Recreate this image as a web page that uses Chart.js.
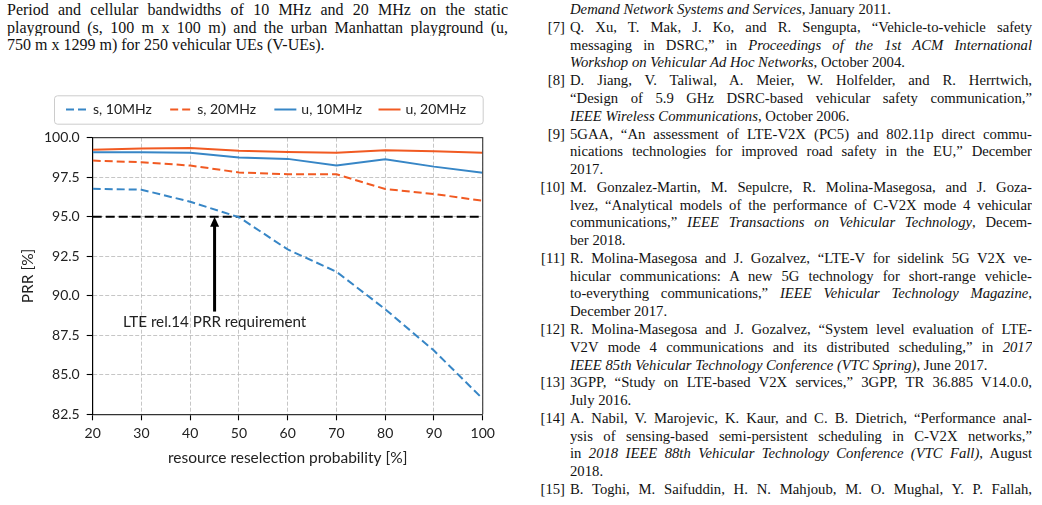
<!DOCTYPE html>
<html><head><meta charset="utf-8">
<script src="https://cdn.jsdelivr.net/npm/chart.js@4.4.0/dist/chart.umd.min.js"></script>
<style>
html,body{margin:0;padding:0;background:#fff;width:1042px;height:505px;overflow:hidden;position:relative}
.t{position:absolute;font-family:"Liberation Serif","Times New Roman",serif;font-size:14.7px;line-height:17.78px;color:#111}
.l{position:relative;height:17.78px;overflow:hidden;text-align:justify;text-align-last:justify}
.e{text-align:left;text-align-last:left;white-space:nowrap}
.v{overflow:visible}
.n{position:absolute;right:100%;top:0;padding-right:5px;white-space:nowrap}
#wrap{position:absolute;left:0;top:88px;width:520px;height:400px}
</style></head>
<body>
<div class="t" style="left:7px;top:0.8px;width:501px;font-size:16px">
<div class="l">Period and cellular bandwidths of 10 MHz and 20 MHz on the static</div>
<div class="l">playground (s, 100 m x 100 m) and the urban Manhattan playground (u,</div>
<div class="l e">750 m x 1299 m) for 250 vehicular UEs (V-UEs).</div>
</div>
<div class="t" style="left:570px;top:1.2px;width:462px">
<div class="l e"><i>Demand Network Systems and Services</i>, January 2011.</div>
<div class="l v"><span class="n">[7]</span>Q. Xu, T. Mak, J. Ko, and R. Sengupta, “Vehicle-to-vehicle safety</div>
<div class="l">messaging in DSRC,” in <i>Proceedings of the 1st ACM International</i></div>
<div class="l e"><i>Workshop on Vehicular Ad Hoc Networks</i>, October 2004.</div>
<div class="l v"><span class="n">[8]</span>D. Jiang, V. Taliwal, A. Meier, W. Holfelder, and R. Herrtwich,</div>
<div class="l">“Design of 5.9 GHz DSRC-based vehicular safety communication,”</div>
<div class="l e"><i>IEEE Wireless Communications</i>, October 2006.</div>
<div class="l v"><span class="n">[9]</span>5GAA, “An assessment of LTE-V2X (PC5) and 802.11p direct commu-</div>
<div class="l">nications technologies for improved road safety in the EU,” December</div>
<div class="l e">2017.</div>
<div class="l v"><span class="n">[10]</span>M. Gonzalez-Martin, M. Sepulcre, R. Molina-Masegosa, and J. Goza-</div>
<div class="l">lvez, “Analytical models of the performance of C-V2X mode 4 vehicular</div>
<div class="l">communications,” <i>IEEE Transactions on Vehicular Technology</i>, Decem-</div>
<div class="l e">ber 2018.</div>
<div class="l v"><span class="n">[11]</span>R. Molina-Masegosa and J. Gozalvez, “LTE-V for sidelink 5G V2X ve-</div>
<div class="l">hicular communications: A new 5G technology for short-range vehicle-</div>
<div class="l">to-everything communications,” <i>IEEE Vehicular Technology Magazine</i>,</div>
<div class="l e">December 2017.</div>
<div class="l v"><span class="n">[12]</span>R. Molina-Masegosa and J. Gozalvez, “System level evaluation of LTE-</div>
<div class="l">V2V mode 4 communications and its distributed scheduling,” in <i>2017</i></div>
<div class="l e"><i>IEEE 85th Vehicular Technology Conference (VTC Spring)</i>, June 2017.</div>
<div class="l v"><span class="n">[13]</span>3GPP, “Study on LTE-based V2X services,” 3GPP, TR 36.885 V14.0.0,</div>
<div class="l e">July 2016.</div>
<div class="l v"><span class="n">[14]</span>A. Nabil, V. Marojevic, K. Kaur, and C. B. Dietrich, “Performance anal-</div>
<div class="l">ysis of sensing-based semi-persistent scheduling in C-V2X networks,”</div>
<div class="l">in <i>2018 IEEE 88th Vehicular Technology Conference (VTC Fall)</i>, August</div>
<div class="l e">2018.</div>
<div class="l v"><span class="n">[15]</span>B. Toghi, M. Saifuddin, H. N. Mahjoub, M. O. Mughal, Y. P. Fallah,</div>
</div>
<div id="wrap"><canvas id="c" width="520" height="400" style="width:520px;height:400px"></canvas></div>
<script>
// ---- data ----
const xValues = [20, 30, 40, 50, 60, 70, 80, 90, 100];
const s10MHz = [96.77, 96.71, 95.95, 94.97, 92.93, 91.52, 89.15, 86.53, 83.48];
const s20MHz = [98.55, 98.45, 98.24, 97.80, 97.69, 97.69, 96.75, 96.44, 96.01];
const u10MHz = [99.08, 99.08, 99.04, 98.74, 98.66, 98.24, 98.64, 98.17, 97.78];
const u20MHz = [99.23, 99.31, 99.35, 99.18, 99.10, 99.04, 99.20, 99.14, 99.04];
const seriesLabels = ['s, 10MHz', 's, 20MHz', 'u, 10MHz', 'u, 20MHz'];
const requirement = 95.0;
const xTickValues = [20, 30, 40, 50, 60, 70, 80, 90, 100];
const yTickValues = [82.5, 85.0, 87.5, 90.0, 92.5, 95.0, 97.5, 100.0];
const arrowX = 45, arrowFrom = 89.0, arrowTo = 95.0, annotY = 88.35;
const annotText = 'LTE rel.14 PRR requirement';
const xTitle = 'resource reselection probability [%]';
const yTitle = 'PRR [%]';

const BLUE = '#3786c6', ORANGE = '#f15a22', TXT = '#222';
const FONT = 'Lato';
const pts = arr => xValues.map((x, i) => ({x, y: arr[i]}));

const datasets = [
  {label: seriesLabels[0], data: pts(s10MHz), borderColor: BLUE, borderWidth: 2, borderDash: [8, 4]},
  {label: seriesLabels[1], data: pts(s20MHz), borderColor: ORANGE, borderWidth: 2, borderDash: [8, 4]},
  {label: seriesLabels[2], data: pts(u10MHz), borderColor: BLUE, borderWidth: 2},
  {label: seriesLabels[3], data: pts(u20MHz), borderColor: ORANGE, borderWidth: 2},
  {label: 'req', data: [{x: xTickValues[0], y: requirement}, {x: xTickValues[xTickValues.length - 1], y: requirement}],
   borderColor: '#000', borderWidth: 2.2, borderDash: [9, 4], legendHidden: true}
];

const decor = {
  id: 'decor',
  afterDatasetsDraw(chart) {
    const {ctx, chartArea: a, scales: {x, y}} = chart;
    ctx.save();
    ctx.strokeStyle = '#444'; ctx.lineWidth = 1.2; ctx.setLineDash([]);
    ctx.beginPath();
    ctx.moveTo(a.left, a.top); ctx.lineTo(a.right, a.top); ctx.lineTo(a.right, a.bottom);
    ctx.stroke();
    const px = x.getPixelForValue(arrowX);
    const y1 = y.getPixelForValue(arrowFrom), y2 = y.getPixelForValue(arrowTo);
    const head = 10;
    ctx.strokeStyle = '#000'; ctx.fillStyle = '#000'; ctx.lineWidth = 3;
    ctx.beginPath(); ctx.moveTo(px, y1); ctx.lineTo(px, y2 + head - 1); ctx.stroke();
    ctx.beginPath(); ctx.moveTo(px, y2); ctx.lineTo(px - 4.5, y2 + head); ctx.lineTo(px + 4.5, y2 + head); ctx.closePath(); ctx.fill();
    ctx.fillStyle = TXT; ctx.font = '15.2px ' + FONT; ctx.textAlign = 'center'; ctx.textBaseline = 'middle';
    ctx.fillText(annotText, px, y.getPixelForValue(annotY));
    ctx.restore();
  },
  afterDraw(chart) {
    const {ctx, chartArea: a} = chart;
    const L = a.left - 38.7, T = a.top - 42.4, W = a.right - L, H = 28.4;
    ctx.save();
    ctx.fillStyle = 'rgba(255,255,255,0.9)'; ctx.strokeStyle = '#cccccc'; ctx.lineWidth = 1;
    ctx.beginPath();
    if (ctx.roundRect) ctx.roundRect(L + 0.5, T + 0.5, W, H, 3); else ctx.rect(L + 0.5, T + 0.5, W, H);
    ctx.fill(); ctx.stroke();
    const ds = chart.data.datasets.filter(d => !d.legendHidden);
    const colW = (W - 12) / 4;
    const cy = T + H / 2;
    ds.forEach((d, i) => {
      const x0 = L + 12 + i * colW;
      ctx.strokeStyle = d.borderColor; ctx.lineWidth = d.borderWidth;
      ctx.setLineDash(d.borderDash || []);
      ctx.beginPath(); ctx.moveTo(x0, cy); ctx.lineTo(x0 + 22, cy); ctx.stroke();
      ctx.setLineDash([]);
      ctx.fillStyle = TXT; ctx.font = '14px ' + FONT; ctx.textAlign = 'left'; ctx.textBaseline = 'middle';
      ctx.fillText(d.label, x0 + 27, cy);
    });
    ctx.restore();
  }
};

const gridCommon = {color: '#b8b8b8', lineWidth: 0.8, tickColor: '#000', tickLength: 6, tickWidth: 1.1};

new Chart(document.getElementById('c'), {
  type: 'line',
  data: {datasets},
  options: {
    responsive: false, animation: false, devicePixelRatio: 1,
    layout: {padding: {top: 49.7, right: 37.3, left: 0, bottom: 0}},
    plugins: {legend: {display: false}, tooltip: {enabled: false}},
    elements: {point: {radius: 0}, line: {tension: 0, fill: false}},
    scales: {
      x: {
        type: 'linear', min: xTickValues[0], max: xTickValues[xTickValues.length - 1],
        afterBuildTicks: s => { s.ticks = xTickValues.map(v => ({value: v})); },
        afterFit: s => { s.height = 73.7; },
        ticks: {color: TXT, font: {family: FONT, size: 14}, padding: 5, maxRotation: 0, callback: v => String(v)},
        grid: gridCommon,
        border: {display: true, color: '#333', width: 1.2, dash: [4, 2]},
        title: {display: true, text: xTitle, color: TXT, font: {family: FONT, size: 15.5}, padding: {top: 0, bottom: 21}}
      },
      y: {
        type: 'linear', min: yTickValues[0], max: yTickValues[yTickValues.length - 1],
        afterBuildTicks: s => { s.ticks = yTickValues.map(v => ({value: v})); },
        afterFit: s => { s.width = 92.7; },
        ticks: {color: TXT, font: {family: FONT, size: 14}, padding: 7, callback: v => Number(v).toFixed(1)},
        grid: gridCommon,
        border: {display: true, color: '#000', width: 1.2, dash: [4, 2]},
        title: {display: true, text: yTitle, color: TXT, font: {family: FONT, size: 15.5}, padding: {top: 19, bottom: 0}}
      }
    }
  },
  plugins: [decor]
});
</script>
</body></html>
